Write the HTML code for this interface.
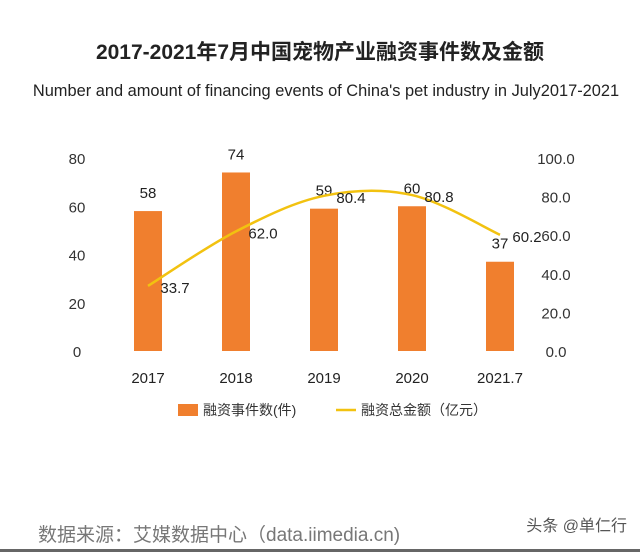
<!DOCTYPE html>
<html><head><meta charset="utf-8"><style>
body{margin:0;width:640px;height:552px;background:#fff;overflow:hidden;font-family:"Liberation Sans","Noto Sans CJK SC",sans-serif;}
svg text{font-family:"Liberation Sans","Noto Sans CJK SC",sans-serif;}
</style></head><body>
<svg width="640" height="552" id="c">
<rect x="0" y="0" width="640" height="552" fill="#fff"/>
<text x="320" y="59" text-anchor="middle" font-size="21" font-weight="bold" fill="#222">2017-2021年7月中国宠物产业融资事件数及金额</text>
<text x="326" y="96" text-anchor="middle" font-size="16.4" fill="#222">Number and amount of financing events of China's pet industry in July2017-2021</text>
<g id="plot"></g>
<rect x="178" y="404" width="20" height="12" fill="#f07f2e"/>
<text x="203" y="415" font-size="14" fill="#333">融资事件数(件)</text>
<line x1="336" y1="410" x2="356" y2="410" stroke="#f2c210" stroke-width="2.5"/>
<text x="361" y="415" font-size="14" fill="#333">融资总金额（亿元）</text>
<text x="38" y="541" font-size="19" fill="#777">数据来源：艾媒数据中心（data.iimedia.cn)</text>
<text x="627" y="531" text-anchor="end" font-size="16" fill="#555">头条 @单仁行</text>
<rect x="0" y="549" width="640" height="3" fill="#666"/>
</svg>
<script>
const categories=["2017","2018","2019","2020","2021.7"];
const events=[58,74,59,60,37];
const amounts=[33.7,62.0,80.4,80.8,60.2];
const leftTicks=[0,20,40,60,80];
const rightTicks=[0,20,40,60,80,100];
const NS="http://www.w3.org/2000/svg";
const g=document.getElementById('plot');
const y0=351,yTop=158;
const yL=v=>y0-(v/80)*(y0-yTop);
const yR=v=>y0-(v/100)*(y0-yTop);
const xC=i=>148+i*88;
function mk(t,a,txt){const e=document.createElementNS(NS,t);for(const k in a)e.setAttribute(k,a[k]);if(txt!==undefined)e.textContent=txt;g.appendChild(e);return e;}
leftTicks.forEach(v=>{const e=mk('text',{x:77,y:yL(v)+6,'text-anchor':'middle','font-size':15,fill:'#333'},v);

});
rightTicks.forEach(v=>{const e=mk('text',{x:556,y:yR(v)+6,'text-anchor':'middle','font-size':15,fill:'#333'},v.toFixed(1));

});
categories.forEach((c,i)=>{
const b=mk('rect',{x:xC(i)-14,y:yL(events[i]),width:28,height:y0-yL(events[i]),fill:'#f07f2e'});


const l=mk('text',{x:xC(i),y:yL(events[i])-13,'text-anchor':'middle','font-size':15,fill:'#222'},events[i]);


const t=mk('text',{x:xC(i),y:383,'text-anchor':'middle','font-size':15,fill:'#222'},c);


});
const pts=amounts.map((v,i)=>[xC(i),yR(v)]);
let d='M'+pts[0][0]+','+pts[0][1];
for(let i=0;i<pts.length-1;i++){const p0=pts[Math.max(i-1,0)],p1=pts[i],p2=pts[i+1],p3=pts[Math.min(i+2,pts.length-1)];
const c1=[p1[0]+(p2[0]-p0[0])/6,p1[1]+(p2[1]-p0[1])/6],c2=[p2[0]-(p3[0]-p1[0])/6,p2[1]-(p3[1]-p1[1])/6];
d+=' C'+c1+' '+c2+' '+p2;}
const line=mk('path',{d:d,fill:'none',stroke:'#f2c210','stroke-width':2.5});


amounts.forEach((v,i)=>{const e=mk('text',{x:xC(i)+27,y:yR(v)+7,'text-anchor':'middle','font-size':15,fill:'#222'},v.toFixed(1));

});
</script>
</body></html>
